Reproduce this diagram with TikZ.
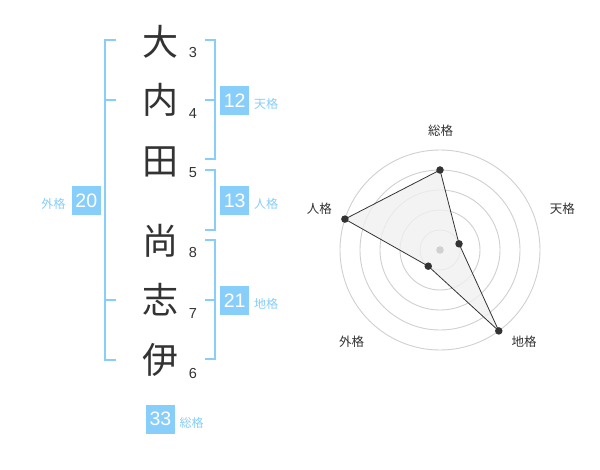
\documentclass[tikz,border=0pt]{standalone}
\usepackage{fontspec}
\usetikzlibrary{calc}
\newfontfamily\cjk{Noto Sans CJK JP}
\newfontfamily\dig{Liberation Sans}
\definecolor{lblue}{RGB}{135,206,250}
\definecolor{txt}{RGB}{51,51,51}
\definecolor{ring}{RGB}{208,208,208}
\definecolor{polyfill}{RGB}{240,240,240}
\begin{document}
\begin{tikzpicture}[x=1pt,y=-1pt,
  kanji/.style={inner sep=0pt,font=\cjk\fontsize{36}{36}\selectfont,text=txt},
  stroke/.style={inner sep=0pt,font=\dig\fontsize{14.5}{14.5}\selectfont,text=txt},
  numbox/.style={fill=lblue,minimum size=29pt,inner sep=0pt,font=\dig\fontsize{19.5}{19.5}\selectfont,text=white},
  gelab/.style={inner sep=0pt,font=\cjk\fontsize{12}{12}\selectfont,text=lblue},
  radlab/.style={inner sep=0pt,font=\cjk\fontsize{12.5}{12.5}\selectfont,text=txt},
  brk/.style={draw=lblue,line width=2pt},
  ringc/.style={draw=ring,line width=0.9pt},
  dotc/.style={circle,fill=txt,inner sep=0pt,minimum size=7.5pt}]
\useasboundingbox (0,0) rectangle (600,470);
\fill[white] (0,0) rectangle (600,470);
% kanji
\node[kanji] (k1) at (160,42) {大};
\node[kanji] (k2) at (160,100) {内};
\node[kanji] (k3) at (160,162) {田};
\node[kanji] (k4) at (160,241) {尚};
\node[kanji] (k5) at (160,300) {志};
\node[kanji] (k6) at (160,360) {伊};
% strokes
\node[stroke] (s1) at (193,52.5) {3};
\node[stroke] (s2) at (193,113.5) {4};
\node[stroke] (s3) at (193,173) {5};
\node[stroke] (s4) at (193,252.5) {8};
\node[stroke] (s5) at (193,313.5) {7};
\node[stroke] (s6) at (193,373.5) {6};
% brackets
\draw[brk] (116,40) -- (105,40) -- (105,360) -- (116,360);
\draw[brk] (105,100) -- (116,100);
\draw[brk] (105,300) -- (116,300);
\draw[brk] (205,40) -- (214.5,40) -- (214.5,159.5) -- (205,159.5);
\draw[brk] (205,100) -- (214.5,100);
\draw[brk] (205,170) -- (214.5,170) -- (214.5,230) -- (205,230);
\draw[brk] (205,240) -- (214.5,240) -- (214.5,359.5) -- (205,359.5);
\draw[brk] (205,300) -- (214.5,300);
% boxes
\node[numbox] (b12) at (234.7,100.5) {12};
\node[numbox] (b13) at (234.7,200.5) {13};
\node[numbox] (b21) at (234.7,300.5) {21};
\node[numbox] (b20) at (86.3,200.5) {20};
\node[numbox] (b33) at (160.5,419) {33};
\node[gelab] (l12) at (266,104) {天格};
\node[gelab] (l13) at (266,204) {人格};
\node[gelab] (l21) at (266,304) {地格};
\node[gelab] (l20) at (53.3,204) {外格};
\node[gelab] (l33) at (191.7,422.5) {総格};
% radar
\coordinate (c) at (440,250);
\foreach \r in {20,40,60,80,100} \draw[ringc] (c) circle[radius=\r];
\coordinate (ps) at ($(c)+(-90:80)$);
\coordinate (pt) at ($(c)+(-18:20)$);
\coordinate (pc) at ($(c)+(54:100)$);
\coordinate (pg) at ($(c)+(126:20)$);
\coordinate (pj) at ($(c)+(198:100)$);
\draw[fill=polyfill,fill opacity=0.8,draw=txt,line width=0.8pt] (ps) -- (pt) -- (pc) -- (pg) -- (pj) -- cycle;
\fill[ring] (c) circle[radius=3.8];
\foreach \p in {ps,pt,pc,pg,pj} \node[dotc] at (\p) {};
\node[radlab] (rs) at (440.7,130.7) {総格};
\node[radlab] (rt) at (562.3,208.3) {天格};
\node[radlab] (rc) at (524,341.7) {地格};
\node[radlab] (rg) at (351.7,341.7) {外格};
\node[radlab] (rj) at (319.3,209) {人格};
\end{tikzpicture}
\end{document}
